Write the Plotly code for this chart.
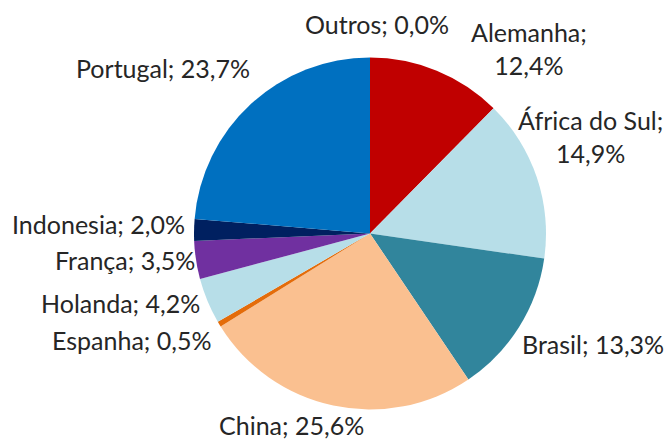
import plotly.graph_objects as go

# Data
countries = ["Alemanha", "África do Sul", "Brasil", "China", "Espanha",
             "Holanda", "França", "Indonesia", "Portugal", "Outros"]
shares = [12.4, 14.9, 13.3, 25.6, 0.5, 4.2, 3.5, 2.0, 23.7, 0.0]
colors = ["#C00000", "#B7DEE8", "#31859C", "#FAC090", "#E46C0A",
          "#B7DEE8", "#7030A0", "#002060", "#0070C0", "#7F7F7F"]

# Label layout (pixel positions in the 667x439 canvas): x, y(center), xanchor, line break
W, H = 667, 439
label_pos = {
    "Alemanha": (529, 48, "center", True),
    "África do Sul": (590, 136, "center", True),
    "Brasil": (520, 344, "left", False),
    "China": (291, 425, "center", False),
    "Espanha": (213, 340, "right", False),
    "Holanda": (202, 303, "right", False),
    "França": (197, 260, "right", False),
    "Indonesia": (187, 224, "right", False),
    "Portugal": (252, 68, "right", False),
    "Outros": (377, 24, "center", False),
}

cx, cy, r = 370, 233.5, 176

fig = go.Figure(go.Pie(
    labels=countries,
    values=shares,
    sort=False,
    direction="clockwise",
    rotation=0,
    marker=dict(colors=colors, line=dict(width=0)),
    textinfo="none",
    hoverinfo="label+percent",
    showlegend=False,
    domain=dict(x=[(cx - r) / W, (cx + r) / W], y=[1 - (cy + r) / H, 1 - (cy - r) / H]),
))

FONT = dict(family="Lato, Liberation Sans, Arial, sans-serif", size=25, color="#262626")
annotations = []
for name, val in zip(countries, shares):
    x, y, anchor, br = label_pos[name]
    num = f"{val:.1f}".replace(".", ",") + "%"
    text = f"{name};<br>{num}" if br else f"{name}; {num}"
    annotations.append(dict(
        text=text, x=x / W, y=1 - y / H, xref="paper", yref="paper",
        xanchor=anchor, yanchor="middle", showarrow=False, font=FONT, align="center",
    ))

fig.update_layout(
    width=W, height=H,
    margin=dict(l=0, r=0, t=0, b=0),
    paper_bgcolor="white", plot_bgcolor="white",
    annotations=annotations,
)
fig.write_html("out.html", config={"displayModeBar": False},
               post_script="document.body.style.margin='0';document.body.style.overflow='hidden';")
